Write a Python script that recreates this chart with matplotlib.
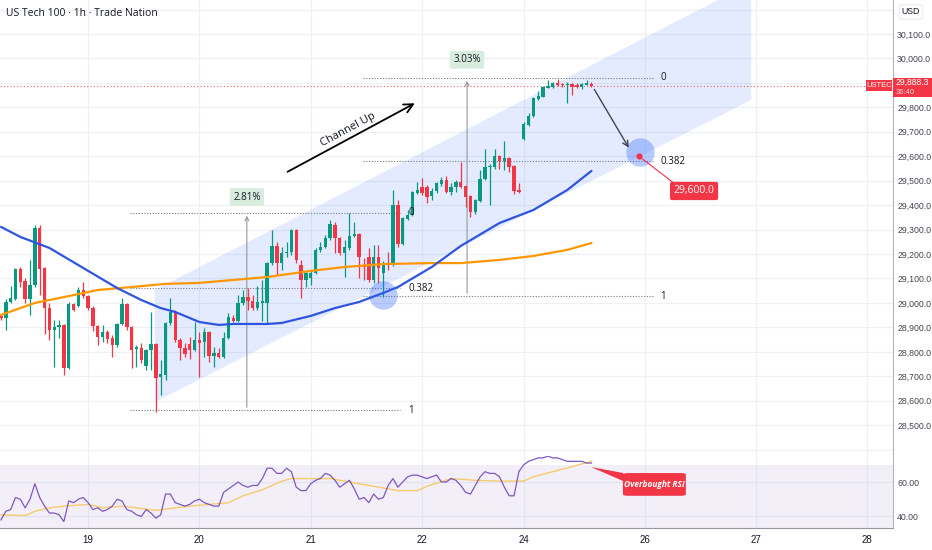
import matplotlib
matplotlib.use('Agg')
import matplotlib.pyplot as plt
from matplotlib.patches import Polygon, Rectangle, FancyBboxPatch

plt.rcParams['font.family'] = ['Open Sans', 'DejaVu Sans']
NARROW = ['Liberation Sans', 'DejaVu Sans']

# ---------------- data (hourly bars, US Tech 100) ----------------
opens = [28946, 28938, 29004, 29016, 29139, 29090, 29016, 29073, 29306, 29143,
         28979, 28889, 28902, 28910, 28734, 28996, 28987, 29053, 29028, 28979,
         28906, 28861, 28881, 28857, 28828, 28914, 28996, 28902, 28812, 28816,
         28742, 28808, 28832, 28697, 28705, 28918, 28963, 28848, 28816, 28832,
         28808, 28848, 28840, 28881, 28783, 28795, 28779, 28857, 28938, 28926,
         29000, 29024, 29008, 28979, 29000, 29000, 29163, 29233, 29163, 29204,
         29208, 29298, 29155, 29094, 29100, 29122, 29217, 29229, 29266, 29319,
         29266, 29204, 29225, 29274, 29282, 29151, 29188, 29094, 29188, 29122,
         29163, 29155, 29401, 29241, 29343, 29360, 29450, 29474, 29474, 29437,
         29458, 29486, 29503, 29454, 29474, 29495, 29478, 29437, 29372, 29417,
         29507, 29556, 29556, 29601, 29581, 29593, 29560, 29462, 29670, 29728,
         29765, 29834, 29842, 29879, 29883, 29900, 29895, 29891, 29895, 29891,
         29883, 29891, 29895]
highs = [28950, 29016, 29069, 29143, 29147, 29102, 29176, 29319, 29319, 29147,
         29000, 28930, 28930, 28915, 29004, 29000, 29065, 29086, 29032, 28987,
         28910, 28910, 28889, 28869, 28918, 29020, 29000, 28905, 28828, 28836,
         28810, 28963, 28836, 28767, 28922, 29020, 28971, 28857, 28836, 28861,
         28922, 28881, 28897, 28885, 28820, 28816, 28881, 28959, 28951, 29032,
         29053, 29061, 29032, 29069, 29094, 29167, 29298, 29249, 29229, 29249,
         29302, 29302, 29176, 29127, 29131, 29225, 29249, 29278, 29339, 29331,
         29270, 29257, 29368, 29331, 29286, 29184, 29225, 29237, 29237, 29171,
         29208, 29462, 29421, 29351, 29380, 29458, 29495, 29511, 29482, 29470,
         29495, 29515, 29519, 29491, 29503, 29576, 29482, 29442, 29425, 29544,
         29630, 29568, 29630, 29605, 29662, 29597, 29564, 29491, 29740, 29777,
         29842, 29867, 29887, 29912, 29904, 29916, 29900, 29904, 29900, 29900,
         29900, 29912, 29904]
lows = [28930, 28889, 29000, 29012, 29065, 29000, 28951, 29065, 29032, 28873,
        28848, 28738, 28857, 28705, 28730, 28967, 28983, 29020, 28971, 28885,
        28828, 28840, 28836, 28779, 28820, 28910, 28889, 28734, 28738, 28754,
        28726, 28726, 28554, 28623, 28685, 28910, 28840, 28767, 28779, 28771,
        28804, 28697, 28779, 28758, 28738, 28775, 28775, 28853, 28922, 28922,
        28992, 28971, 28971, 28971, 28926, 28918, 29155, 29114, 29135, 29188,
        29196, 29163, 29020, 29065, 29073, 29118, 29208, 29225, 29257, 29204,
        29196, 29106, 29217, 29270, 29102, 29094, 29086, 29082, 29082, 29024,
        29135, 29151, 29229, 29237, 29339, 29356, 29446, 29442, 29409, 29421,
        29450, 29478, 29450, 29442, 29454, 29470, 29393, 29351, 29364, 29413,
        29503, 29401, 29548, 29548, 29544, 29536, 29446, 29450, 29666, 29724,
        29761, 29830, 29842, 29879, 29881, 29887, 29883, 29818, 29850, 29879,
        29875, 29891, 29883]
closes = [28938, 29004, 29020, 29139, 29086, 29016, 29073, 29306, 29139, 28979,
          28889, 28902, 28910, 28734, 28996, 28971, 29053, 29028, 28979, 28906,
          28861, 28881, 28853, 28828, 28914, 28996, 28902, 28808, 28820, 28767,
          28808, 28832, 28695, 28709, 28918, 28963, 28848, 28816, 28791, 28808,
          28848, 28836, 28881, 28783, 28795, 28779, 28857, 28942, 28926, 29000,
          29024, 29008, 28979, 29004, 29006, 29163, 29233, 29163, 29204, 29210,
          29298, 29176, 29094, 29122, 29122, 29217, 29229, 29266, 29323, 29266,
          29204, 29229, 29274, 29282, 29188, 29147, 29094, 29188, 29143, 29163,
          29159, 29401, 29241, 29347, 29360, 29454, 29462, 29450, 29433, 29458,
          29491, 29503, 29454, 29474, 29495, 29474, 29433, 29372, 29421, 29507,
          29556, 29560, 29601, 29581, 29593, 29556, 29458, 29454, 29732, 29765,
          29838, 29846, 29883, 29887, 29900, 29891, 29891, 29893, 29883, 29883,
          29895, 29900, 29888]

ma_blue_bar = [0, 4, 10, 17, 24, 29, 33, 36, 41, 45, 48, 55, 58, 64, 69, 74, 79, 82, 89, 95, 103, 110, 117, 122]
ma_blue_val = [29311, 29270, 29225, 29143, 29061, 29012, 28979, 28963, 28922, 28910, 28914, 28914,
               28918, 28947, 28979, 29004, 29041, 29065, 29147, 29233, 29327, 29380, 29462, 29540]
ma_orange_bar = [0, 7, 14, 20, 27, 34, 41, 48, 55, 64, 71, 79, 89, 95, 103, 110, 117, 122]
ma_orange_val = [28951, 29000, 29028, 29053, 29065, 29078, 29082, 29094, 29106, 29131, 29147, 29159,
                 29163, 29163, 29176, 29192, 29217, 29245]

rsi = [38, 43, 44, 51, 50, 45, 50, 59, 51, 46, 42, 42, 41, 37, 49, 48, 50, 51, 48, 44,
       45, 43, 44, 46, 50, 49, 44, 43, 41, 40, 44, 42, 39, 41, 53, 53, 48, 47, 46, 47,
       49, 50, 48, 47, 46, 46, 54, 56, 58, 60, 58, 57, 58, 58, 62, 68, 68, 65, 65, 68,
       66, 57, 55, 55, 59, 61, 62, 65, 64, 61, 57, 59, 61, 56, 50, 51, 48, 53, 50, 51,
       58, 62, 57, 60, 63, 64, 64, 63, 62, 63, 64, 60, 60, 62, 61, 58, 54, 53, 58, 63,
       66, 65, 65, 63, 57, 52, 52, 66, 70, 72, 73, 74, 74, 75, 74, 74, 73, 72, 72, 72,
       72, 71, 71]
rsi_ma_bar = [0, 5, 7, 10, 13, 18, 21, 25, 28, 32, 36, 39, 43, 47, 50, 54, 58, 60, 63, 68, 72, 77, 82, 86, 88, 93, 98, 103, 108, 110, 114, 118, 122]
rsi_ma_val = [41, 40.5, 43, 45, 46, 47, 45, 46, 45, 43.5, 45, 46, 47, 48, 52, 55.5, 60.5, 62, 62, 62,
              60, 57.5, 55, 55, 57.5, 62, 61, 60.5, 60.5, 63, 66, 69, 72]

date_bars = [18, 41, 64, 87, 108, 133, 156, 179]
date_labels = ['19', '20', '21', '22', '24', '26', '27', '28']
price_ticks = [28500, 28600, 28700, 28800, 28900, 29000, 29100, 29200, 29300,
               29400, 29500, 29600, 29700, 29800, 30000, 30100]
grid_levels = [28400, 28500, 28600, 28700, 28800, 28900, 29000, 29100, 29200, 29300,
               29400, 29500, 29600, 29700, 29800, 29900, 30000, 30100, 30200]
last_price = 29888.3
target_price = 29600.0

# fib / measures
fib1_top, fib1_bot = 29368, 28562
fib2_top, fib2_bot = 29920, 29028
fib_ratios = [0, 0.382, 1]

# ---------------- colours ----------------
UP, DOWN = '#089981', '#f23645'
GRID = '#eef0f4'
TXT = '#131722'

W, H = 932, 550
def fx(px): return px / W
def fy(py): return 1 - py / H

fig = plt.figure(figsize=(9.32, 5.5), dpi=100)
fig.patch.set_facecolor('white')
ax = fig.add_axes([0, fy(456), fx(893), fy(0) - fy(456)])
rx = fig.add_axes([0, fy(528), fx(893), fy(456) - fy(528)], sharex=ax)

ax.set_xlim(-0.2, 184.3)
ax.set_ylim(28374, 30239)
rx.set_ylim(33.3, 75.1)

# grid
for lv in grid_levels:
    ax.axhline(lv, color=GRID, lw=0.9, zorder=0)
for b in date_bars:
    ax.axvline(b, color=GRID, lw=0.9, zorder=0)
    rx.axvline(b, color=GRID, lw=0.9, zorder=0)
for lv in [40, 60]:
    rx.axhline(lv, color=GRID, lw=0.9, zorder=0)

# channel
chan = Polygon([(31.8, 29053), (155.0, 30309), (155.0, 29830), (31.8, 28595)],
               closed=True, facecolor='#2962ff', alpha=0.12, edgecolor='none', zorder=1)
ax.add_patch(chan)

# fib lines
def fib(x0, x1, top, bot, xl):
    for r in fib_ratios:
        lv = top - r * (top - bot)
        ax.plot([x0, x1], [lv, lv], color='#787b86', lw=0.8, ls=(0, (1, 1.5)), zorder=2)
        ax.text(xl, lv, ('%g' % r), fontsize=7, color=TXT, va='center', ha='left', zorder=6)
fib(26.7, 82.4, fib1_top, fib1_bot, 84.1)
fib(74.8, 134.7, fib2_top, fib2_bot, 136.2)

# measures
def measure(x, lo, hi, label, ylab):
    ax.annotate('', xy=(x, hi), xytext=(x, lo),
                arrowprops=dict(arrowstyle='->', lw=0.8, color='#9598a1', mutation_scale=7), zorder=2)
    ax.text(x, ylab, label, fontsize=7, color=TXT, ha='center', va='center', zorder=6,
            bbox=dict(boxstyle='round,pad=0.35,rounding_size=0.2', fc='#d8ecdf', ec='none'))
measure(50.8, fib1_bot, fib1_top, '2.81%', 29433)
measure(96.3, fib2_bot, fib2_top, '3.03%', 29994)

# last price line
ax.axhline(last_price, color=DOWN, lw=0.8, ls=(0, (1, 2)), alpha=0.8, zorder=2)

# candles
for i, (o, h, l, c) in enumerate(zip(opens, highs, lows, closes)):
    col = UP if c >= o else DOWN
    ax.vlines(i, l, h, color=col, lw=0.9, zorder=4)
    bot = min(o, c)
    hgt = max(abs(c - o), 4)
    ax.bar(i, hgt, bottom=bot, width=0.7, color=col, linewidth=0, zorder=4)

# moving averages
ax.plot(ma_orange_bar, ma_orange_val, color='#ff9800', lw=1.6, zorder=5, solid_capstyle='round')
ax.plot(ma_blue_bar, ma_blue_val, color='#2f55e0', lw=1.6, zorder=5, solid_capstyle='round')

# circles
ax.scatter([78.9], [29032], s=420, color='#2962ff', alpha=0.32, linewidths=0, zorder=6)
ax.scatter([132.0], [29617], s=420, color='#2962ff', alpha=0.32, linewidths=0, zorder=6)

# Channel Up arrow and label
ax.annotate('', xy=(86.0, 29822), xytext=(58.7, 29531),
            arrowprops=dict(arrowstyle='->', lw=1.3, color='black', mutation_scale=16), zorder=7)
ax.text(71.7, 29707, 'Channel Up', fontsize=8, rotation=28.3, rotation_mode='anchor',
        ha='center', va='center', color=TXT, zorder=7)

# target arrow
ax.annotate('', xy=(130.0, 29625), xytext=(122.3, 29883),
            arrowprops=dict(arrowstyle='->', lw=1.0, color='#434651', mutation_scale=10), zorder=7)
ax.plot([131.8, 139.3], [target_price, 29486], color=DOWN, lw=0.8, zorder=7)
ax.scatter([131.8], [target_price], s=12, color=DOWN, zorder=8)
ax.text(143.2, 29458, '{:,.1f}'.format(target_price), fontsize=7.5, color='white',
        ha='center', va='center', zorder=8,
        bbox=dict(boxstyle='round,pad=0.35,rounding_size=0.2', fc=DOWN, ec='none'))

# price axis
ax.yaxis.tick_right()
ax.set_yticks(price_ticks)
ax.set_yticklabels(['{:,.1f}'.format(v) for v in price_ticks], family=NARROW)
ax.tick_params(axis='y', length=0, pad=3, labelsize=6.3, labelcolor='#434651')
ax.tick_params(axis='x', bottom=False, labelbottom=False)
for s in ['top', 'left']:
    ax.spines[s].set_visible(False)
ax.spines['right'].set_color('#b2b5be')
ax.spines['bottom'].set_color('#e0e3eb')

# RSI pane
rx.axhspan(30, 70, color='#7e57c2', alpha=0.09, lw=0, zorder=0)
rx.plot(range(len(rsi)), rsi, color='#7e57c2', lw=0.9, zorder=3)
rx.plot(rsi_ma_bar, rsi_ma_val, color='#f5cb6b', lw=1.0, zorder=2)
rx.yaxis.tick_right()
rx.set_yticks([40, 60])
rx.set_yticklabels(['40.00', '60.00'], family=NARROW)
rx.tick_params(axis='y', length=0, pad=3, labelsize=6.3, labelcolor='#434651')
rx.set_xticks(date_bars)
rx.set_xticklabels(date_labels, family=NARROW)
rx.tick_params(axis='x', length=0, pad=5, labelsize=7, labelcolor=TXT)
for s in ['top', 'left']:
    rx.spines[s].set_visible(False)
rx.spines['right'].set_color('#b2b5be')
rx.spines['bottom'].set_color('#9598a1')

# Overbought RSI callout
box = FancyBboxPatch((128.5, 52.0), 13.0, 13.2, boxstyle='round,pad=0,rounding_size=1.0',
                     fc=DOWN, ec='none', zorder=6, mutation_aspect=1.0)
rx.add_patch(box)
rx.add_patch(Polygon([(121.9, 68.7), (128.6, 65.2), (128.6, 60.5)], closed=True,
                     fc=DOWN, ec='none', zorder=6))
rx.text(135.0, 58.6, 'Overbought RSI', fontsize=6, color='white', fontweight='bold',
        style='italic', ha='center', va='center', zorder=7)

# header / tags
fig.text(fx(6), fy(13), 'US Tech 100 · 1h · Trade Nation', fontsize=7.5, color=TXT,
         ha='left', va='center')
fig.text(fx(911), fy(12), 'USD', fontsize=6.3, color=TXT, ha='center', va='center',
         family=NARROW, bbox=dict(boxstyle='round,pad=0.3', fc='white', ec='#e0e3eb', lw=0.6))
fig.patches.append(Rectangle((fx(893), fy(97)), fx(39), 19 / H, transform=fig.transFigure,
                             fc=DOWN, ec='none', zorder=5))
fig.patches.append(Rectangle((fx(866), fy(91)), fx(26), 11 / H, transform=fig.transFigure,
                             fc=DOWN, ec='none', zorder=5))
fig.text(fx(896), fy(82.5), '{:,.1f}'.format(last_price), fontsize=6.2, color='white',
         ha='left', va='center', zorder=6, family=NARROW)
fig.text(fx(896), fy(92), '36:40', fontsize=5.5, color='#ffd6da', ha='left', va='center',
         zorder=6, family=NARROW)
fig.text(fx(879), fy(85.5), 'USTEC', fontsize=5.5, color='white', ha='center', va='center',
         zorder=6, family=NARROW)

fig.savefig('out.png', dpi=100, facecolor='white')
